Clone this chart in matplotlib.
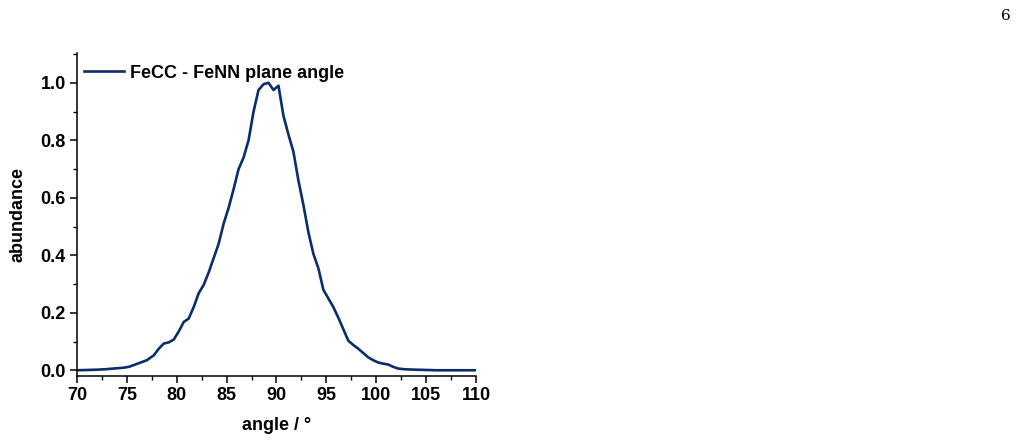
import matplotlib

matplotlib.use("Agg")
import matplotlib.pyplot as plt  # noqa: E402
from matplotlib.ticker import MultipleLocator  # noqa: E402

# plane angle distribution
angle = [70, 71, 72, 73, 74, 74.7, 75.2, 76, 77, 77.7, 78.2, 78.7, 79.2, 79.7,
         80.2, 80.7, 81.2, 81.7, 82.2, 82.7, 83.2, 83.7, 84.2, 84.7, 85.2, 85.7,
         86.2, 86.7, 87.2, 87.7, 88.2, 88.7, 89.2, 89.7, 90.2, 90.7, 91.2, 91.7,
         92.2, 92.7, 93.2, 93.7, 94.2, 94.7, 95.2, 95.7, 96.2, 96.7, 97.2, 97.7,
         98.2, 98.7, 99.2, 99.7, 100.2, 100.7, 101.2, 101.7, 102.2, 102.7, 103.2,
         104, 105, 106, 107, 108, 109, 110]
abundance = [0.0, 0.001, 0.002, 0.004, 0.007, 0.009, 0.012, 0.022, 0.035, 0.052,
             0.075, 0.093, 0.097, 0.107, 0.135, 0.168, 0.18, 0.22, 0.268, 0.297,
             0.34, 0.39, 0.44, 0.51, 0.565, 0.63, 0.70, 0.74, 0.80, 0.90, 0.975,
             0.995, 1.0, 0.975, 0.99, 0.885, 0.82, 0.76, 0.66, 0.575, 0.48, 0.405,
             0.355, 0.28, 0.25, 0.22, 0.183, 0.143, 0.103, 0.088, 0.075, 0.06,
             0.045, 0.035, 0.027, 0.023, 0.02, 0.012, 0.006, 0.004, 0.003, 0.002,
             0.001, 0.0, 0.0, 0.0, 0.0, 0.0]
label = "FeCC - FeNN plane angle"

plt.rcParams["font.family"] = ["Liberation Sans", "DejaVu Sans"]
plt.rcParams["font.weight"] = "bold"

fig = plt.figure(figsize=(10.24, 4.43), dpi=100)
ax = fig.add_axes([0.0752, 0.1512, 0.3896, 0.73])

ax.plot(angle, abundance, color="#0b2d6b", lw=1.9, label=label)

ax.set_xlim(70, 110)
ax.set_ylim(-0.02, 1.105)
ax.xaxis.set_major_locator(MultipleLocator(5))
ax.xaxis.set_minor_locator(MultipleLocator(2.5))
ax.yaxis.set_major_locator(MultipleLocator(0.2))
ax.yaxis.set_minor_locator(MultipleLocator(0.1))
ax.yaxis.set_major_formatter(plt.FormatStrFormatter("%.1f"))
ax.tick_params(which="major", direction="out", length=5, width=1.1, labelsize=13,
               pad=3)
ax.tick_params(which="minor", direction="out", length=3, width=1.0)
for s in ("top", "right"):
    ax.spines[s].set_visible(False)
for s in ("left", "bottom"):
    ax.spines[s].set_linewidth(1.1)

ax.set_xlabel("angle / °", fontsize=13, fontweight="bold", labelpad=9)
ax.set_ylabel("abundance", fontsize=13, fontweight="bold", labelpad=10)

leg = ax.legend(loc="upper left", frameon=False, fontsize=13, handlelength=2.2,
                handletextpad=0.35, borderaxespad=0.0,
                bbox_to_anchor=(0.0, 0.985))
for t in leg.get_texts():
    t.set_fontweight("bold")

fig.text(0.982, 0.965, "6", family="DejaVu Serif", fontsize=11, ha="center",
         va="center", fontweight="normal")

fig.savefig("out.png", dpi=100)
plt.close(fig)
